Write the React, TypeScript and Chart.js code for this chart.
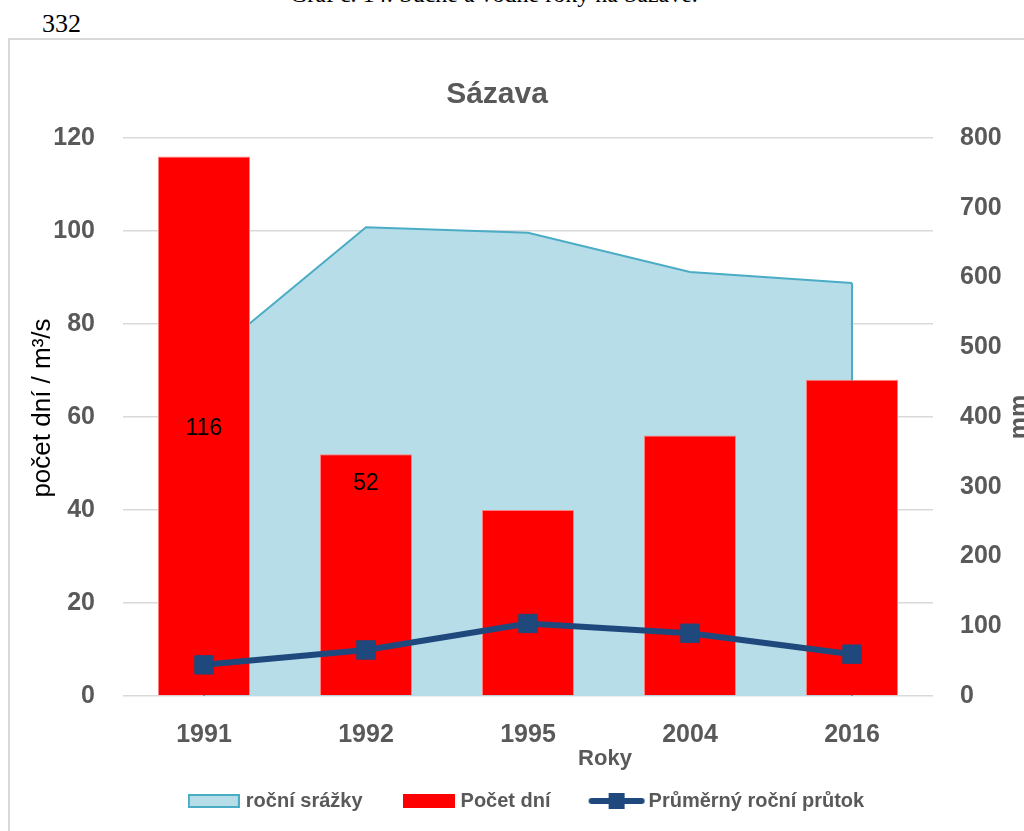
import React, { useEffect, useRef } from "react";
import { Chart, registerables } from "chart.js";

Chart.register(...registerables);

const years = ["1991", "1992", "1995", "2004", "2016"];
const pocetDni = [116, 52, 40, 56, 68];
const rocniSrazky = [480, 672, 664, 608, 592];
const prumernyPrutok = [6.7, 9.9, 15.6, 13.5, 9.0];
const leftAxis = { min: 0, max: 120, step: 20 };
const rightAxis = { min: 0, max: 800, step: 100 };
const labelledBars = [0, 1];

const FONT = '"Liberation Sans", Arial, sans-serif';
const GRAY = "#595959";
const AREA_FILL = "#B7DDE8";
const AREA_LINE = "#4BACC6";
const BAR_RED = "#FF0000";
const LINE_BLUE = "#1F497D";

function makeIcon(kind: string): HTMLCanvasElement {
  const c = document.createElement("canvas");
  const ctx = c.getContext("2d")!;
  if (kind === "area") {
    c.width = 52; c.height = 14;
    ctx.fillStyle = AREA_FILL; ctx.fillRect(0, 0, 52, 14);
    ctx.strokeStyle = AREA_LINE; ctx.lineWidth = 2; ctx.strokeRect(1, 1, 50, 12);
  } else if (kind === "bar") {
    c.width = 52; c.height = 14;
    ctx.fillStyle = BAR_RED; ctx.fillRect(0, 0, 52, 14);
  } else {
    c.width = 58; c.height = 18;
    ctx.strokeStyle = LINE_BLUE; ctx.lineWidth = 6; ctx.lineCap = "round";
    ctx.beginPath(); ctx.moveTo(4, 9); ctx.lineTo(54, 9); ctx.stroke();
    ctx.fillStyle = LINE_BLUE; ctx.fillRect(21, 1, 16, 16);
  }
  return c;
}

const extraPlugin = {
  id: "extraText",
  afterDatasetDraw(chart: any, args: any) {
    if (args.index !== 0) return;
    const ctx = chart.ctx;
    const pts = chart.getDatasetMeta(0).data;
    const y0 = chart.scales.y1.getPixelForValue(0);
    ctx.save();
    ctx.strokeStyle = AREA_LINE;
    ctx.lineWidth = 2;
    [pts[0], pts[pts.length - 1]].forEach((p: any) => {
      ctx.beginPath(); ctx.moveTo(p.x, p.y); ctx.lineTo(p.x, y0); ctx.stroke();
    });
    ctx.restore();
  },
  afterDraw(chart: any) {
    const ctx = chart.ctx;
    const area = chart.chartArea;
    const cx = (area.left + area.right) / 2;
    const cy = (area.top + area.bottom) / 2;
    ctx.save();
    // bar value labels
    const bars = chart.getDatasetMeta(1).data;
    ctx.fillStyle = "#000";
    ctx.font = `23px ${FONT}`;
    ctx.textAlign = "center";
    ctx.textBaseline = "middle";
    labelledBars.forEach((i, k) => {
      const b = bars[i];
      const y = k === 0 ? (b.y + b.base) / 2 + 3 : b.y + 29;
      ctx.fillText(String(pocetDni[i]), b.x, y);
    });
    // chart title
    ctx.fillStyle = GRAY;
    ctx.font = `bold 30px ${FONT}`;
    ctx.textBaseline = "alphabetic";
    ctx.fillText("Sázava", cx - 31, 63);
    // x axis title
    ctx.font = `bold 22px ${FONT}`;
    ctx.textBaseline = "middle";
    ctx.fillText("Roky", cx + 77, 719);
    // left axis title
    ctx.save();
    ctx.fillStyle = "#000";
    ctx.font = `26px ${FONT}`;
    ctx.translate(33, cy - 9);
    ctx.rotate(-Math.PI / 2);
    ctx.textBaseline = "middle";
    ctx.fillText("počet dní / m³/s", 0, 0);
    ctx.restore();
    // right axis title
    ctx.fillStyle = GRAY;
    ctx.font = `bold 25px ${FONT}`;
    ctx.translate(chart.width - 19, cy);
    ctx.rotate(-Math.PI / 2);
    ctx.textBaseline = "alphabetic";
    ctx.fillText("mm", 0, 0);
    ctx.restore();
  },
};

export default function App() {
  const ref = useRef<HTMLCanvasElement>(null);
  useEffect(() => {
    if (!ref.current) return;
    const icons = [makeIcon("area"), makeIcon("bar"), makeIcon("line")];
    const chart = new Chart(ref.current, {
      type: "bar",
      data: {
        labels: years,
        datasets: [
          {
            type: "line",
            label: "roční srážky",
            data: rocniSrazky,
            yAxisID: "y1",
            fill: "origin",
            backgroundColor: AREA_FILL,
            borderColor: AREA_LINE,
            borderWidth: 2,
            pointRadius: 0,
            tension: 0,
            order: 3,
          } as any,
          {
            type: "bar",
            label: "Počet dní",
            data: pocetDni,
            yAxisID: "y",
            backgroundColor: BAR_RED,
            borderColor: "#ff8080",
            borderWidth: 1,
            categoryPercentage: 1,
            barPercentage: 0.568,
            order: 2,
          },
          {
            type: "line",
            label: "Průměrný roční průtok",
            data: prumernyPrutok,
            yAxisID: "y",
            borderColor: LINE_BLUE,
            borderWidth: 6,
            pointStyle: "rect",
            pointRadius: 13,
            pointBackgroundColor: LINE_BLUE,
            pointBorderColor: LINE_BLUE,
            pointBorderWidth: 1,
            tension: 0,
            fill: false,
            order: 1,
          } as any,
        ],
      },
      options: {
        animation: false,
        responsive: false,
        devicePixelRatio: 1,
        layout: { padding: { top: 98, left: 0, right: 0, bottom: 0 } },
        plugins: {
          title: { display: false },
          tooltip: { enabled: false },
          legend: {
            position: "bottom",
            labels: {
              usePointStyle: true,
              pointStyleWidth: 44,
              padding: 44,
              color: GRAY,
              font: { family: FONT, size: 20, weight: "bold" },
              generateLabels: (c: any) =>
                c.data.datasets.map((ds: any, i: number) => ({
                  text: ds.label,
                  pointStyle: icons[i],
                  datasetIndex: i,
                  hidden: false,
                  fillStyle: "transparent",
                  strokeStyle: "transparent",
                  lineWidth: 0,
                  fontColor: GRAY,
                })),
            },
          },
        },
        scales: {
          x: {
            grid: { display: false, drawTicks: false },
            border: { display: false },
            ticks: { color: GRAY, padding: 24, font: { family: FONT, size: 25, weight: "bold" } },
            afterFit: (s: any) => { s.height = 51; },
          },
          y: {
            position: "left",
            min: leftAxis.min,
            max: leftAxis.max,
            ticks: { stepSize: leftAxis.step, color: GRAY, padding: 28, font: { family: FONT, size: 25, weight: "bold" } },
            grid: { color: "#d9d9d9", lineWidth: 1.5, drawTicks: false },
            border: { display: false },
            title: { display: false },
            afterFit: (s: any) => { s.width = 113; },
          },
          y1: {
            position: "right",
            min: rightAxis.min,
            max: rightAxis.max,
            ticks: { stepSize: rightAxis.step, color: GRAY, padding: 27, font: { family: FONT, size: 25, weight: "bold" } },
            grid: { display: false, drawTicks: false },
            border: { display: false },
            afterFit: (s: any) => { s.width = 113; },
          },
        },
      } as any,
      plugins: [extraPlugin],
    });
    return () => chart.destroy();
  }, []);

  return (
    <div style={{ position: "absolute", left: 0, top: 0, width: 1024, height: 831, overflow: "hidden", background: "#fff" }}>
      <div style={{ position: "absolute", left: 290, top: -18, font: '24px "Liberation Serif", serif', lineHeight: "24px", whiteSpace: "nowrap" }}>
        Graf č. 14: Suché a vodné roky na Sázavě.
      </div>
      <div style={{ position: "absolute", left: 42, top: 11, font: '26px "Liberation Serif", serif', lineHeight: "26px" }}>332</div>
      <div style={{ position: "absolute", left: 8, top: 38, width: 1040, height: 850, border: "2px solid #d9d9d9" }}>
        <canvas ref={ref} width={1036} height={781} style={{ position: "absolute", left: 0, top: 0, width: 1036, height: 781 }} />
      </div>
    </div>
  );
}
